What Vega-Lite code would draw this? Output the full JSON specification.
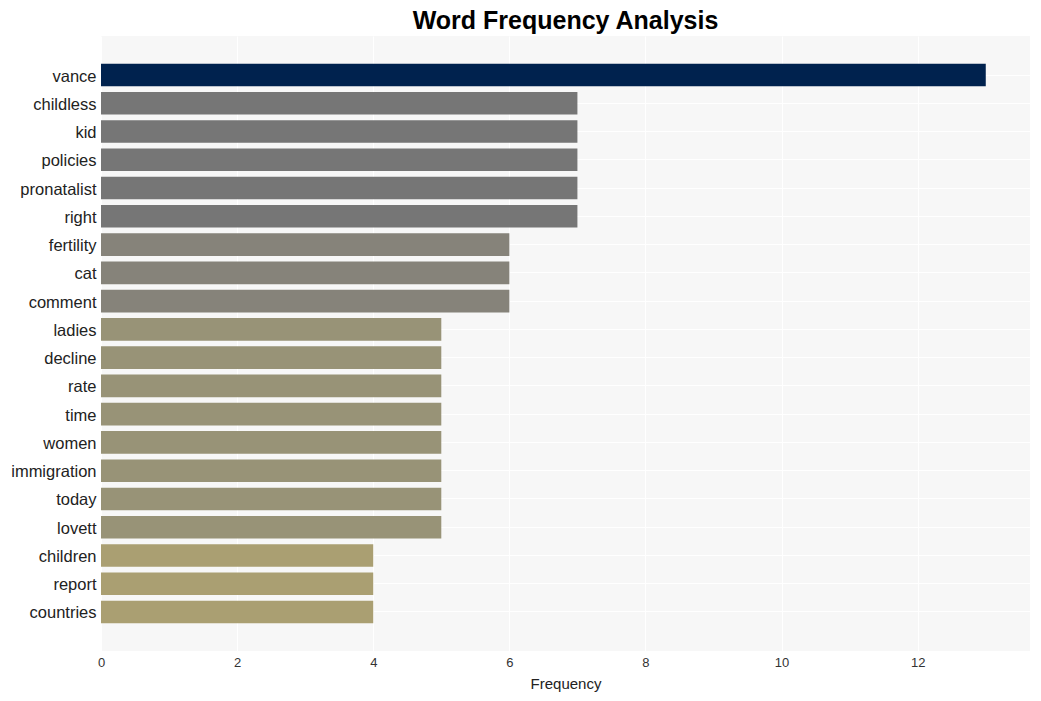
{
  "$schema": "https://vega.github.io/schema/vega-lite/v6.json",
  "width": 929,
  "height": 615,
  "autosize": {"type": "none"},
  "padding": {"left": 101, "top": 36, "right": 11, "bottom": 50},
  "background": "white",
  "title": {
    "text": "Word Frequency Analysis",
    "fontSize": 25,
    "fontWeight": "bold",
    "font": "Liberation Sans",
    "color": "#000000",
    "anchor": "middle",
    "offset": 2
  },
  "data": {
    "values": [
      {"word": "vance", "freq": 13},
      {"word": "childless", "freq": 7},
      {"word": "kid", "freq": 7},
      {"word": "policies", "freq": 7},
      {"word": "pronatalist", "freq": 7},
      {"word": "right", "freq": 7},
      {"word": "fertility", "freq": 6},
      {"word": "cat", "freq": 6},
      {"word": "comment", "freq": 6},
      {"word": "ladies", "freq": 5},
      {"word": "decline", "freq": 5},
      {"word": "rate", "freq": 5},
      {"word": "time", "freq": 5},
      {"word": "women", "freq": 5},
      {"word": "immigration", "freq": 5},
      {"word": "today", "freq": 5},
      {"word": "lovett", "freq": 5},
      {"word": "children", "freq": 4},
      {"word": "report", "freq": 4},
      {"word": "countries", "freq": 4}
    ]
  },
  "config": {
    "view": {"fill": "#f7f7f7", "stroke": null},
    "font": "Liberation Sans"
  },
  "mark": {"type": "bar"},
  "encoding": {
    "y": {
      "field": "word",
      "type": "nominal",
      "sort": null,
      "scale": {"paddingInner": 0.2, "paddingOuter": 0.98},
      "axis": {
        "title": null,
        "domain": false,
        "ticks": false,
        "labelFontSize": 16.5,
        "labelColor": "#222222",
        "labelPadding": 5,
        "labelBaseline": "middle",
        "labelOffset": 1.5,
        "grid": true,
        "gridColor": "#ffffff",
        "gridWidth": 1,
        "bandPosition": 0.5
      }
    },
    "x": {
      "field": "freq",
      "type": "quantitative",
      "scale": {"domain": [0, 13.65], "nice": false},
      "axis": {
        "title": "Frequency",
        "titleFontSize": 15,
        "titleFontWeight": "normal",
        "titleColor": "#222222",
        "titlePadding": 7,
        "values": [0, 2, 4, 6, 8, 10, 12],
        "domain": false,
        "ticks": false,
        "labelFlush": false,
        "labelFontSize": 13,
        "labelColor": "#333333",
        "labelPadding": 5,
        "grid": true,
        "gridColor": "#ffffff",
        "gridWidth": 1
      }
    },
    "color": {
      "field": "freq",
      "type": "ordinal",
      "scale": {
        "domain": [13, 7, 6, 5, 4],
        "range": ["#00224e", "#767676", "#86837a", "#989377", "#aa9f72"]
      },
      "legend": null
    }
  }
}
